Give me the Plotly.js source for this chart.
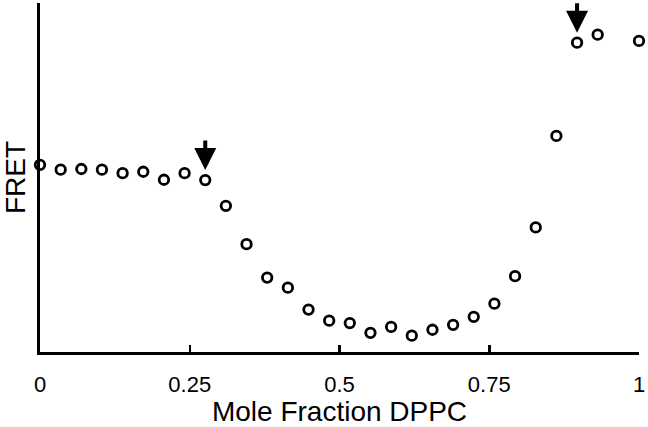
<!DOCTYPE html>
<html>
<head>
<meta charset="utf-8">
<script src="https://cdn.plot.ly/plotly-3.0.1.min.js"></script>
<style>
  html, body { margin: 0; padding: 0; background: #fff; }
  #chart { width: 648px; height: 427px; }
</style>
</head>
<body>
<div id="chart"></div>
<script>
// Mole fraction DPPC (steps of 1/29, one point missing near 0.966)
const moleFraction = [
  0, 0.0345, 0.069, 0.1034, 0.1379, 0.1724, 0.2069, 0.2414, 0.2759, 0.3103,
  0.3448, 0.3793, 0.4138, 0.4483, 0.4828, 0.5172, 0.5517, 0.5862, 0.6207,
  0.6552, 0.6897, 0.7241, 0.7586, 0.7931, 0.8276, 0.8621, 0.8966, 0.931, 1
];

// FRET signal, arbitrary units
const fret = [
  0.535, 0.521, 0.523, 0.521, 0.511, 0.515, 0.492, 0.511, 0.491, 0.417,
  0.307, 0.211, 0.182, 0.119, 0.087, 0.080, 0.052, 0.069, 0.044,
  0.061, 0.075, 0.098, 0.136, 0.215, 0.355, 0.618, 0.886, 0.909, 0.891
];

const tickValues = [0, 0.25, 0.5, 0.75, 1];
const tickLabels = ['0', '0.25', '0.5', '0.75', '1'];

// indices of the points marked by arrows (phase boundaries)
const arrowIndices = [8, 26];

const FONT = 'Liberation Sans, Arial, sans-serif';

const MARKER_STYLE = {
  symbol: 'circle',
  size: 9.5,
  color: '#ffffff',
  line: {color: '#000000', width: 2.8}
};

var trace = {
  x: moleFraction,
  y: fret,
  mode: 'markers',
  type: 'scatter',
  marker: MARKER_STYLE,
  cliponaxis: false,
  showlegend: false,
  hoverinfo: 'skip'
};

var arrows = arrowIndices.map(i => ({
  x: moleFraction[i],
  y: fret[i],
  xref: 'x',
  yref: 'y',
  text: '',
  showarrow: true,
  arrowhead: 2,
  arrowwidth: 4,
  arrowsize: 1.1,
  arrowcolor: '#000000',
  standoff: 10,
  ax: 0,
  ay: -41
}));

const LAYOUT = {
  width: 648,
  height: 427,
  margin: {l: 40, r: 9, t: 3, b: 75},
  paper_bgcolor: '#ffffff',
  plot_bgcolor: '#ffffff',
  font: {family: FONT, color: '#000000'},
  xaxis: {
    range: [0, 1],
    tickvals: tickValues,
    ticktext: tickLabels,
    ticks: 'inside',
    ticklen: 7,
    tickwidth: 2.5,
    tickcolor: '#000000',
    tickfont: {family: FONT, size: 22, color: '#000000'},
    ticklabelstandoff: 11,
    showline: true,
    linewidth: 3,
    linecolor: '#000000',
    showgrid: false,
    zeroline: false,
    title: {text: 'Mole Fraction DPPC', font: {family: FONT, size: 28, color: '#000000'}, standoff: 7}
  },
  yaxis: {
    range: [-0.003, 1],
    showticklabels: false,
    ticks: '',
    showline: true,
    linewidth: 3,
    linecolor: '#000000',
    showgrid: false,
    zeroline: false,
    title: {text: 'FRET', font: {family: FONT, size: 28, color: '#000000'}, standoff: 14}
  },
  annotations: arrows
};

Plotly.newPlot('chart', [trace], LAYOUT, {displayModeBar: false, staticPlot: true});
</script>
</body>
</html>
